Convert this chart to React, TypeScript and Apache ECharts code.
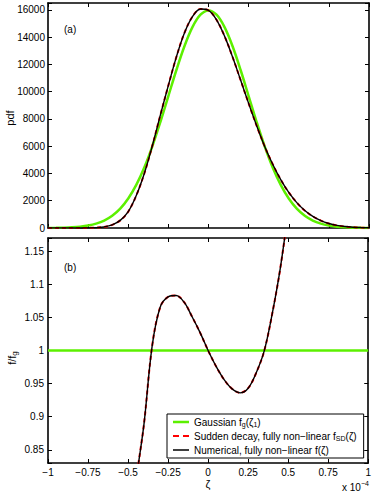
import React, { useEffect, useRef } from "react";
import * as echarts from "echarts";

// ---- data ----
const zetaPdf = [
  -1, -0.95, -0.9, -0.85, -0.8, -0.75, -0.7, -0.65, -0.6, -0.55, -0.5, -0.45, -0.4, -0.35, -0.3, -0.25, -0.2, -0.15, -0.1, -0.05,
  0, 0.05, 0.1, 0.15, 0.2, 0.25, 0.3, 0.35, 0.4, 0.45, 0.5, 0.55, 0.6, 0.65, 0.7, 0.75, 0.8, 0.85, 0.9, 0.95, 1,
];
const gaussianPdf = [
  5, 12, 24, 49, 95, 177, 317, 543, 896, 1419, 2160, 3158, 4436, 5989, 7768, 9679, 11587, 13330, 14731, 15642,
  15958, 15642, 14731, 13330, 11587, 9679, 7768, 5989, 4436, 3158, 2160, 1419, 896, 543, 317, 177, 95, 49, 24, 12, 5,
];
const numericalPdf = [
  0, 0, 0, 0, 2, 8, 25, 80, 230, 560, 1200, 2380, 4000, 6030, 8280, 10460, 12550, 14300, 15500, 16060,
  15960, 15270, 14070, 12540, 10850, 9140, 7500, 5980, 4680, 3550, 2610, 1860, 1280, 850, 540, 330, 190, 108, 58, 31, 14,
];
const suddenPdf = numericalPdf; // coincides with the numerical curve

const zetaRatio = [
  -0.5, -0.45, -0.4, -0.35, -0.3, -0.25, -0.2, -0.15, -0.1, -0.05, 0, 0.05, 0.1, 0.15, 0.2, 0.25, 0.3, 0.35, 0.4, 0.45, 0.5, 0.55,
];
const numericalRatio = [
  0.66, 0.8, 0.89, 1.006, 1.065, 1.081, 1.083, 1.073, 1.051, 1.027, 1.0, 0.976, 0.956, 0.942, 0.936, 0.943, 0.966, 0.999, 1.055, 1.123, 1.21, 1.31,
];
const suddenRatio = numericalRatio;
const gaussianRatioX = [-1, 1];
const gaussianRatio = [1, 1];

const xTicks = { min: -1, max: 1, interval: 0.25 };
const pdfAxis = { min: 0, max: 16500, interval: 2000 };
const ratioAxis = { min: 0.83, max: 1.17 };

const NAME_G = "Gaussian f_g(ζ_1)";
const NAME_SD = "Sudden decay, fully non−linear f_SD(ζ)";
const NAME_N = "Numerical, fully non−linear f(ζ)";

const FONT = "'Liberation Sans', Arial, Helvetica, sans-serif";
const GREEN = "#5cf000";
const RED = "#ff0000";
const BLACK = "#000000";

const pairs = (xs: number[], ys: number[]) => xs.map((x, i) => [x, ys[i]]);

export default function App() {
  const ref = useRef<HTMLDivElement>(null);
  useEffect(() => {
    if (!ref.current) return;
    const chart = echarts.init(ref.current, null, { renderer: "svg" });
    const axisLine = { show: true, onZero: false, lineStyle: { color: "#000", width: 1.6 } };
    const tick = { show: true, inside: true, length: 4, lineStyle: { color: "#000", width: 1 } };
    const fmtX = (v: number) => String(v).replace("-", "−");
    const xAxis = (gridIndex: number, position: string, labels: boolean) => ({
      type: "value",
      gridIndex,
      position,
      ...xTicks,
      axisLine,
      axisTick: tick,
      splitLine: { show: false },
      axisLabel: {
        show: labels,
        fontSize: 10,
        fontFamily: FONT,
        color: "#000",
        margin: 4,
        formatter: fmtX,
      },
    });
    const yPdf = (position: string, labels: boolean) => ({
      type: "value",
      gridIndex: 0,
      position,
      ...pdfAxis,
      axisLine,
      axisTick: tick,
      splitLine: { show: false },
      axisLabel: {
        show: labels,
        fontSize: 10,
        fontFamily: FONT,
        color: "#000",
        margin: 3,
        formatter: (v: number) => (v % 2000 === 0 ? String(v) : ""),
      },
    });
    const yRatio = (position: string, labels: boolean) => ({
      type: "value",
      gridIndex: 1,
      position,
      ...ratioAxis,
      splitNumber: 5,
      axisLine,
      axisTick: tick,
      splitLine: { show: false },
      axisLabel: {
        show: labels,
        fontSize: 10,
        fontFamily: FONT,
        color: "#000",
        margin: 4,
        formatter: (v: number) => {
          const r = Math.round(v * 100);
          return r % 5 === 0 ? String(r / 100) : "";
        },
      },
    });
    const line = (name: string, xi: number, yi: number, data: number[][], style: any, z: number) => ({
      type: "line",
      name,
      xAxisIndex: xi,
      yAxisIndex: yi,
      data,
      symbol: "none",
      showSymbol: false,
      smooth: 0.35,
      clip: true,
      itemStyle: { color: style.color },
      lineStyle: style,
      z,
    });
    const gStyle = { color: GREEN, width: 2.5 };
    const sdStyle = { color: RED, width: 2, type: [4, 3] };
    const nStyle = { color: BLACK, width: 1.4 };
    const rich = {
      t: { fontSize: 10, fontFamily: FONT, color: "#000", lineHeight: 12 },
      s: { fontSize: 7, fontFamily: FONT, color: "#000", lineHeight: 6, verticalAlign: "bottom" },
    };
    const legendMap: Record<string, string> = {
      [NAME_G]: "{t|Gaussian f}{s|g}{t|(ζ}{s|1}{t|)}",
      [NAME_SD]: "{t|Sudden decay, fully non−linear f}{s|SD}{t|(ζ)}",
      [NAME_N]: "{t|Numerical, fully non−linear f(ζ)}",
    };
    const edge = "M0,0h16v0.01h-16zM0,9.99h16v0.01h-16z";
    chart.setOption({
      animation: false,
      backgroundColor: "#fff",
      grid: [
        { left: 48, top: 3, width: 321, height: 225 },
        { left: 48, top: 238, width: 321, height: 225 },
      ],
      xAxis: [xAxis(0, "bottom", false), xAxis(0, "top", false), xAxis(1, "bottom", true), xAxis(1, "top", false)],
      yAxis: [yPdf("left", true), yPdf("right", false), yRatio("left", true), yRatio("right", false)],
      legend: {
        data: [
          { name: NAME_G, icon: "path://" + edge + "M0,3.75h16v2.5h-16z", itemStyle: { color: GREEN, borderWidth: 0 } },
          { name: NAME_SD, icon: "path://" + edge + "M0,4h6v2h-6zM10,4h6v2h-6z", itemStyle: { color: RED, borderWidth: 0 } },
          { name: NAME_N, icon: "path://" + edge + "M0,4.3h16v1.4h-16z", itemStyle: { color: BLACK, borderWidth: 0 } },
        ],
        orient: "vertical",
        left: 167,
        top: 414,
        padding: [3, 7, 3, 6],
        itemWidth: 16,
        itemHeight: 10,
        itemGap: 3,
        itemStyle: { borderWidth: 0 },
        lineStyle: { width: 0 },
        borderColor: "#000",
        borderWidth: 1,
        borderRadius: 0,
        backgroundColor: "#fff",
        selectedMode: false,
        textStyle: { fontSize: 10, fontFamily: FONT, color: "#000", rich },
        formatter: (name: string) => legendMap[name] || name,
        z: 10,
      },
      series: [
        line(NAME_G, 0, 0, pairs(zetaPdf, gaussianPdf), gStyle, 2),
        line(NAME_SD, 0, 0, pairs(zetaPdf, suddenPdf), sdStyle, 3),
        line(NAME_N, 0, 0, pairs(zetaPdf, numericalPdf), nStyle, 4),
        { ...line(NAME_G, 2, 2, pairs(gaussianRatioX, gaussianRatio), gStyle, 2), smooth: false },
        line(NAME_SD, 2, 2, pairs(zetaRatio, suddenRatio), sdStyle, 3),
        line(NAME_N, 2, 2, pairs(zetaRatio, numericalRatio), nStyle, 4),
      ],
      graphic: [
        {
          type: "text",
          x: 10,
          y: 118,
          rotation: Math.PI / 2,
          style: { text: "pdf", fontSize: 11, fontFamily: FONT, fill: "#000", align: "center", verticalAlign: "middle" },
        },
        {
          type: "text",
          x: 12,
          y: 358,
          rotation: Math.PI / 2,
          style: {
            text: "{t|f/f}{s|g}",
            rich: {
              t: { fontSize: 11, fontFamily: FONT, fill: "#000", lineHeight: 13 },
              s: { fontSize: 8, fontFamily: FONT, fill: "#000", lineHeight: 6, verticalAlign: "bottom" },
            },
            align: "center",
            verticalAlign: "middle",
          },
        },
        {
          type: "text",
          x: 64,
          y: 29,
          style: { text: "(a)", fontSize: 10, fontFamily: FONT, fill: "#000", verticalAlign: "middle" },
        },
        {
          type: "text",
          x: 64,
          y: 267,
          style: { text: "(b)", fontSize: 10, fontFamily: FONT, fill: "#000", verticalAlign: "middle" },
        },
        {
          type: "text",
          x: 208,
          y: 484,
          style: { text: "ζ", fontSize: 11, fontFamily: FONT, fill: "#000", align: "center", verticalAlign: "middle" },
        },
        {
          type: "text",
          x: 342,
          y: 487,
          style: {
            text: "{t|x 10}{u|−4}",
            rich: {
              t: { fontSize: 10, fontFamily: FONT, fill: "#000", lineHeight: 14 },
              u: { fontSize: 7, fontFamily: FONT, fill: "#000", lineHeight: 7, verticalAlign: "top" },
            },
            verticalAlign: "middle",
          },
        },
      ],
    });
    return () => chart.dispose();
  }, []);
  return <div ref={ref} style={{ position: "fixed", left: 0, top: 0, width: 374, height: 494, background: "#fff" }} />;
}
